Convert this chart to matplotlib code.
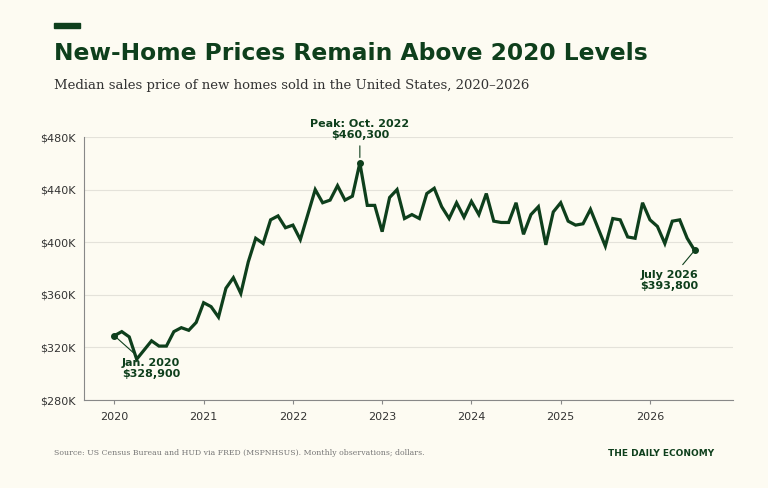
import matplotlib.pyplot as plt
import numpy as np

# median price, $K, monthly Jan 2020 .. Jul 2026
prices = [328.9, 332, 328, 311, 318, 325, 321, 321, 332, 335, 333, 339,
          354, 351, 343, 365, 373, 361, 385, 403, 399, 417, 420, 411,
          413, 402, 421, 440, 430, 432, 443, 432, 435, 460.3, 428, 428,
          408, 434, 440, 418, 421, 418, 437, 441, 427, 418, 430, 419,
          431, 421, 437, 416, 415, 415, 430, 406, 421, 427, 398, 423,
          430, 416, 413, 414, 425, 411, 397, 418, 417, 404, 403, 430,
          417, 412, 399, 416, 417, 403, 393.8]
years = [2020, 2021, 2022, 2023, 2024, 2025, 2026]
yticks = [280, 320, 360, 400, 440, 480]

GREEN = '#0e3f1c'
BG = '#fdfbf2'

x = 2020 + np.arange(len(prices)) / 12

fig = plt.figure(figsize=(7.68, 4.88), dpi=100, facecolor=BG)
ax = fig.add_axes([84/768, 1-400/488, (733-84)/768, (400-137)/488], facecolor=BG)

ax.plot(x, prices, color=GREEN, lw=2.3, solid_joinstyle='miter', zorder=3)
ax.set_xlim(2019.66, 2026.93)
ax.set_ylim(280, 480)
ax.set_xticks(years)
ax.set_xticklabels([str(y) for y in years])
ax.set_yticks(yticks)
ax.set_yticklabels([f'${v}K' for v in yticks])
ax.tick_params(labelsize=8, colors='#333333', length=0, pad=6)
ax.tick_params(axis='x', length=3, color='#888888')
ax.grid(axis='y', color='#e4e2da', lw=0.8)
for s in ['top', 'right']:
    ax.spines[s].set_visible(False)
for s in ['left', 'bottom']:
    ax.spines[s].set_color('#888888')
    ax.spines[s].set_linewidth(0.8)

bold = dict(color=GREEN, fontsize=8, fontweight='bold', ha='center')
# peak
ip = int(np.argmax(prices))
ax.plot(x[ip], prices[ip], 'o', color=GREEN, ms=4, zorder=4)
ax.annotate('Peak: Oct. 2022\n$460,300', xy=(x[ip], prices[ip] + 2), xytext=(x[ip], 477.5),
            va='bottom', annotation_clip=False, arrowprops=dict(arrowstyle='-', color=GREEN, lw=0.8), **bold)
# start
ax.plot(x[0], prices[0], 'o', color=GREEN, ms=4, zorder=4)
ax.annotate('Jan. 2020\n$328,900', xy=(x[0], prices[0]), xytext=(2020.41, 304),
            va='center', arrowprops=dict(arrowstyle='-', color=GREEN, lw=0.8), **bold)
# end
ax.plot(x[-1], prices[-1], 'o', color=GREEN, ms=4, zorder=4)
ax.annotate('July 2026\n$393,800', xy=(x[-1], prices[-1]), xytext=(2026.22, 371),
            va='center', arrowprops=dict(arrowstyle='-', color=GREEN, lw=0.8), **bold)

fig.patches.append(plt.Rectangle((54/768, 1-28/488), 26/768, 5/488, transform=fig.transFigure,
                                 color=GREEN))
fig.text(54/768, 1-53/488, 'New-Home Prices Remain Above 2020 Levels', fontsize=16.8,
         fontweight='bold', color=GREEN, va='center')
fig.text(54/768, 1-85/488, 'Median sales price of new homes sold in the United States, 2020\u20132026',
         fontsize=9.5, family='DejaVu Serif', color='#333333', va='center')
fig.text(54/768, 1-453/488, 'Source: US Census Bureau and HUD via FRED (MSPNHSUS). Monthly observations; dollars.',
         fontsize=5.6, family='DejaVu Serif', color='#777777', va='center')
fig.text(714/768, 1-453/488, 'THE DAILY ECONOMY', fontsize=6.5, fontweight='bold',
         color=GREEN, ha='right', va='center')

fig.savefig('out.png', dpi=100, facecolor=BG)
